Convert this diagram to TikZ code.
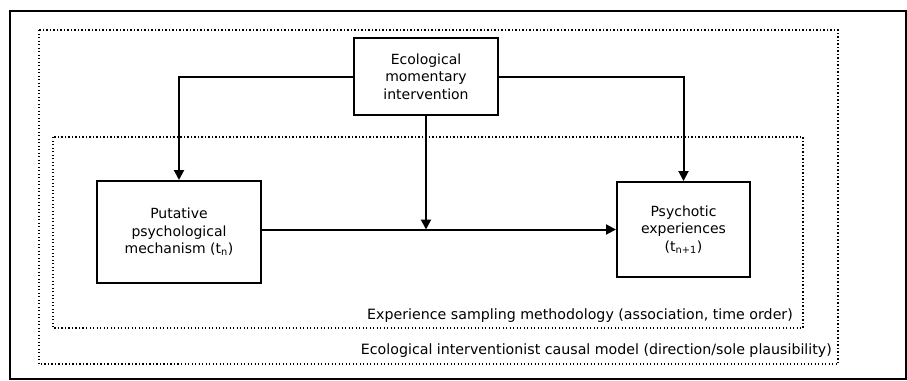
\documentclass[tikz,border=0pt]{standalone}
\usepackage{fontspec}
\setmainfont{DejaVu Sans}
\usetikzlibrary{arrows.meta}
\begin{document}
\begin{tikzpicture}[x=1pt,y=-1pt,
  box/.style={draw, line width=2pt, align=center, inner sep=0pt, font=\fontsize{14}{17.5}\selectfont},
  arr/.style={line width=2pt, -{Triangle[length=10pt,width=10pt]}},
  dotbox/.style={line width=1.6pt, dash pattern=on 1.3pt off 2.2pt},
  lbl/.style={anchor=east, inner sep=0pt, font=\fontsize{14.2}{17}\selectfont}]
\useasboundingbox (0,0) rectangle (907,380);
\draw[line width=2pt] (10,11) rectangle (906,379);
\draw[dotbox] (39,30) rectangle (838,364);
\draw[dotbox] (53,137) rectangle (803,328);
\node[box, minimum width=144pt, minimum height=77pt] (emi) at (426,76.5) {Ecological\\momentary\\intervention};
\node[box, minimum width=164pt, minimum height=102pt] (ppm) at (179,232) {Putative\\psychological\\mechanism (t\textsubscript{n})};
\node[box, minimum width=133pt, minimum height=95pt] (pe) at (683.5,229.5) {Psychotic\\experiences\\(t\textsubscript{n+1})};
\draw[arr] (emi.west) -| (ppm.north);
\draw[arr] (emi.east) -| (pe.north);
\draw[arr] (ppm.east |- pe.west) -- (pe.west);
\draw[arr] (emi.south) -- (emi.south |- pe.west);
\node[lbl] (esm) at (793,316) {Experience sampling methodology (association, time order)};
\node[lbl] (eic) at (832,351) {Ecological interventionist causal model (direction/sole plausibility)};
\end{tikzpicture}
\end{document}
